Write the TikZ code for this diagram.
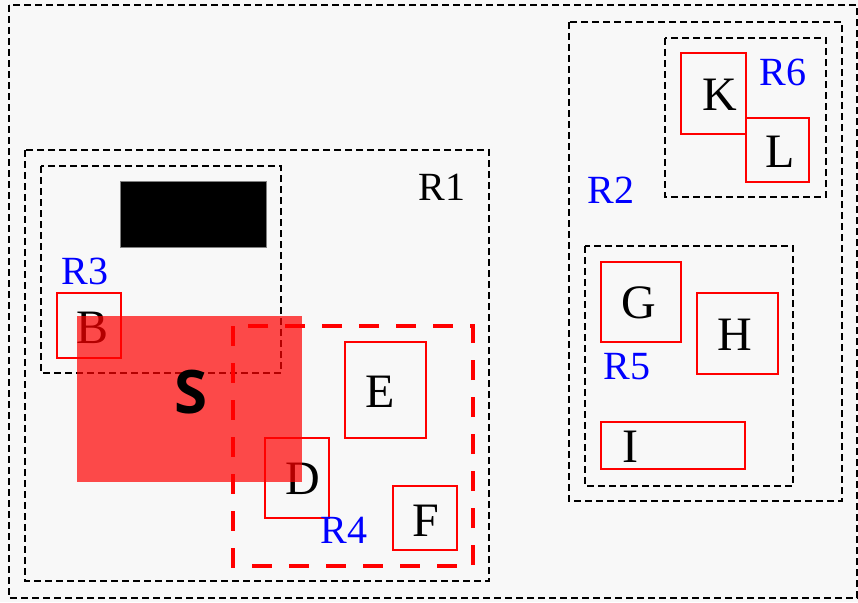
\documentclass[tikz,border=0pt]{standalone}
\usepackage{fontspec}
\setmainfont{Liberation Serif}
\newfontfamily\sbold{Open Sans}

\definecolor{paper}{RGB}{248,248,248}

\tikzset{
  region/.style={draw=black, line width=1.4pt, dash pattern=on 7pt off 4pt},
  elem/.style={draw=red, line width=1.5pt, inner sep=0pt},
  letter/.style={inner sep=0pt, font=\fontsize{48}{48}\selectfont},
  rname/.style={inner sep=0pt, text=blue, font=\fontsize{40}{40}\selectfont},
}

\begin{document}
\begin{tikzpicture}[x=1pt, y=-1pt]
\fill[paper] (0,0) rectangle (858,602);
\useasboundingbox (0,0) rectangle (858,602);

% regions
\draw[region] (9,5)     rectangle (857,598);
\draw[region] (25,150)  rectangle (489,581);
\draw[region] (41,166)  rectangle (281,373);
\draw[region] (569,22)  rectangle (842,501);
\draw[region] (665,38)  rectangle (826,197);
\draw[region] (585,246) rectangle (793,486);

% blocked area
\draw[fill=black, draw=gray, line width=0.8pt] (120,181) rectangle (266,247);

% elements (box + letter)
\node[elem, minimum width=64pt, minimum height=65pt] (B) at (89,325.5)    {};
\node[elem, minimum width=81pt, minimum height=96pt] (E) at (385.5,390)   {};
\node[elem, minimum width=64pt, minimum height=80pt] (D) at (297,478)     {};
\node[elem, minimum width=64pt, minimum height=64pt] (F) at (425,518)     {};
\node[elem, minimum width=80pt, minimum height=80pt] (G) at (641,302)     {};
\node[elem, minimum width=81pt, minimum height=81pt] (H) at (737.5,333.5) {};
\node[elem, minimum width=144pt, minimum height=47pt] (I) at (673,445.5)  {};
\node[elem, minimum width=65pt, minimum height=81pt] (K) at (713.5,93.5)  {};
\node[elem, minimum width=63pt, minimum height=64pt] (L) at (777.5,150)   {};

\node[letter] (b) at (93,327.5)  {B};
\node[letter] (e) at (380,392)   {E};
\node[letter] (d) at (303,479)   {D};
\node[letter] (f) at (426,520.5) {F};
\node[letter] (g) at (639,303)   {G};
\node[letter] (h) at (735,335)   {H};
\node[letter] (i) at (630,447)   {I};
\node[letter] (k) at (720,95)    {K};
\node[letter] (l) at (780,151.5) {L};

% region names
\node[rname, text=black] (r1) at (442,187) {R1};
\node[rname] (r2) at (611,190) {R2};
\node[rname] (r3) at (85,271)  {R3};
\node[rname] (r4) at (344,530) {R4};
\node[rname] (r5) at (627,367) {R5};
\node[rname] (r6) at (783,72)  {R6};

% selection
\fill[red, opacity=0.7] (77,316) rectangle (302,482);
\node[inner sep=0pt, font=\sbold\bfseries\fontsize{60}{60}\selectfont] (S) at (191,392.5) {S};

\draw[red, line width=4.5pt, dash pattern=on 20pt off 17pt] (233,326) rectangle (473,566);

\end{tikzpicture}
\end{document}
